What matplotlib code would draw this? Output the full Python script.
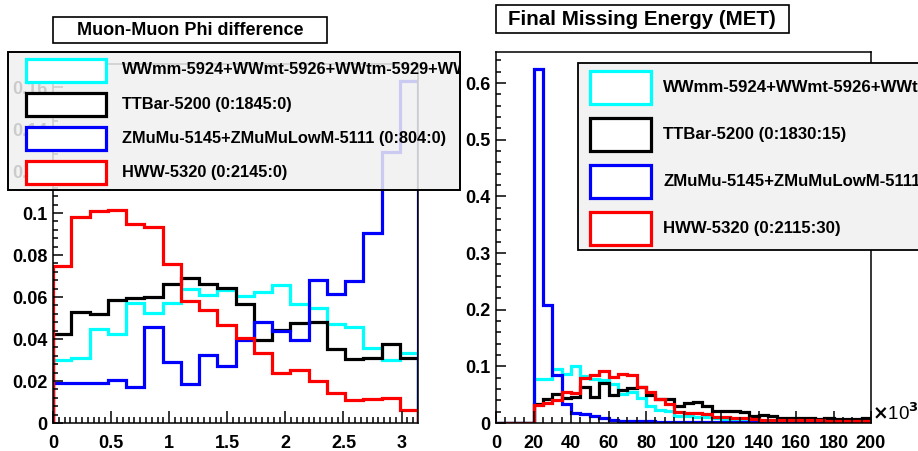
import numpy as np
import matplotlib
matplotlib.use('Agg')
import matplotlib.pyplot as plt
from matplotlib.patches import Rectangle
from matplotlib.ticker import MultipleLocator, FuncFormatter

plt.rcParams['font.family'] = ['Liberation Sans', 'DejaVu Sans']
plt.rcParams['font.weight'] = 'bold'

# --- data: Muon-Muon Phi difference (20 bins, 0..pi) ---
ww_dphi = [0.0302, 0.0308, 0.0446, 0.0425, 0.0573, 0.0525, 0.0571, 0.0640, 0.0608, 0.0632,
           0.0605, 0.0624, 0.0656, 0.0568, 0.0550, 0.0473, 0.0457, 0.0359, 0.0302, 0.0333]
tt_dphi = [0.0425, 0.0529, 0.0517, 0.0584, 0.0597, 0.0600, 0.0663, 0.0692, 0.0663, 0.0644,
           0.0565, 0.0397, 0.0444, 0.0476, 0.0483, 0.0354, 0.0305, 0.0310, 0.0375, 0.0311]
z_dphi = [0.0190, 0.0190, 0.0190, 0.0206, 0.0171, 0.0457, 0.0290, 0.0184, 0.0322, 0.0271,
          0.0394, 0.0481, 0.0437, 0.0394, 0.0683, 0.0616, 0.0676, 0.0905, 0.1290, 0.1630]
hww_dphi = [0.0746, 0.0980, 0.1008, 0.1013, 0.0950, 0.0933, 0.0759, 0.0580, 0.0537, 0.0468,
            0.0406, 0.0333, 0.0240, 0.0251, 0.0198, 0.0144, 0.0111, 0.0114, 0.0119, 0.0060]

# --- data: Final Missing Energy (40 bins of 5, 0..200 x10^3) ---
ww_met = [0, 0, 0, 0, 0.077, 0.078, 0.096, 0.086, 0.1005, 0.083,
          0.077, 0.076, 0.068, 0.052, 0.055, 0.0435, 0.030, 0.023, 0.022, 0.012,
          0.012, 0.010, 0.010, 0.008, 0.006, 0.006, 0.004, 0.0035, 0.003, 0.003,
          0.003, 0.0025, 0.0025, 0.0025, 0.002, 0.002, 0.002, 0.002, 0.002, 0.002]
tt_met = [0, 0, 0, 0, 0.0335, 0.042, 0.051, 0.0435, 0.046, 0.063,
          0.046, 0.070, 0.049, 0.059, 0.062, 0.063, 0.050, 0.043, 0.043, 0.030,
          0.035, 0.037, 0.030, 0.022, 0.022, 0.021, 0.020, 0.013, 0.014, 0.012,
          0.0094, 0.0094, 0.008, 0.008, 0.0065, 0.008, 0.0065, 0.0065, 0.0065, 0.008]
z_met = [0, 0, 0, 0, 0.625, 0.2075, 0.085, 0.0335, 0.017, 0.016,
         0.012, 0.008, 0.005, 0.004, 0.004, 0.003, 0.003, 0.0015, 0.0015, 0.0015,
         0.0015, 0.0015, 0.0015, 0.0015, 0.0015, 0.0015, 0.001, 0.001, 0.001, 0.001,
         0.001, 0.001, 0.001, 0.001, 0.001, 0.001, 0.001, 0.001, 0.001, 0.001]
hww_met = [0, 0, 0, 0, 0.032, 0.036, 0.040, 0.055, 0.053, 0.080,
           0.085, 0.092, 0.081, 0.087, 0.085, 0.064, 0.054, 0.042, 0.034, 0.020,
           0.017, 0.017, 0.016, 0.011, 0.010, 0.008, 0.008, 0.0065, 0.005, 0.005,
           0.005, 0.005, 0.0045, 0.0045, 0.0045, 0.004, 0.004, 0.004, 0.004, 0.004]

colors = ['#00ffff', '#000000', '#0000ff', '#ff0000']
labels_dphi = ['WWmm-5924+WWmt-5926+WWtm-5929+WW', 'TTBar-5200 (0:1845:0)',
               'ZMuMu-5145+ZMuMuLowM-5111 (0:804:0)', 'HWW-5320 (0:2145:0)']
labels_met = ['WWmm-5924+WWmt-5926+WWtm-5929+WW', 'TTBar-5200 (0:1830:15)',
              'ZMuMu-5145+ZMuMuLowM-5111', 'HWW-5320 (0:2115:30)']

W, H = 918, 451
fig = plt.figure(figsize=(W / 100, H / 100), dpi=100)
fig.patch.set_facecolor('white')


def fax(x0, y0, x1, y1):
    # pixel box -> figure fraction rect
    return [x0 / W, (H - y1) / H, (x1 - x0) / W, (y1 - y0) / H]


ax1 = fig.add_axes(fax(53, 64, 418, 423))
ax2 = fig.add_axes(fax(496, 52, 871, 423))

dphi_edges = np.linspace(0, np.pi, len(hww_dphi) + 1)
met_edges = np.linspace(0, 200, len(hww_met) + 1)

for vals, c in zip([ww_dphi, tt_dphi, z_dphi, hww_dphi], colors):
    ax1.stairs(vals, dphi_edges, color=c, lw=2.3, baseline=0)
for vals, c in zip([ww_met, tt_met, z_met, hww_met], colors):
    ax2.stairs(vals, met_edges, color=c, lw=2.3, baseline=0)

ax1.set_xlim(0, np.pi)
ax1.set_ylim(0, 0.171)
ax2.set_xlim(0, 200)
ax2.set_ylim(0, 0.655)

fmt = FuncFormatter(lambda v, p: '%g' % round(v, 4))
for ax in (ax1, ax2):
    for s in ax.spines.values():
        s.set_linewidth(1.1)
    ax.tick_params(which='both', direction='in', top=False, right=False, width=1.1,
                   labelsize=13)
    ax.tick_params(axis='x', which='major', length=8.5, pad=9)
    ax.tick_params(axis='x', which='minor', length=4.3)
    ax.tick_params(axis='y', which='major', length=7, pad=4)
    ax.tick_params(axis='y', which='minor', length=3.6)
    ax.xaxis.set_major_formatter(fmt)
    ax.yaxis.set_major_formatter(fmt)
    for lab in ax.get_xticklabels() + ax.get_yticklabels():
        lab.set_fontweight('bold')

ax1.xaxis.set_major_locator(MultipleLocator(0.5))
ax1.xaxis.set_minor_locator(MultipleLocator(0.05))
ax1.yaxis.set_major_locator(MultipleLocator(0.02))
ax1.yaxis.set_minor_locator(MultipleLocator(0.004))
ax2.xaxis.set_major_locator(MultipleLocator(20))
ax2.xaxis.set_minor_locator(MultipleLocator(5))
ax2.yaxis.set_major_locator(MultipleLocator(0.1))
ax2.yaxis.set_minor_locator(MultipleLocator(0.02))

ax2.text(1.003, 0.027, r'$\times$10$^{3}$', transform=ax2.transAxes, fontsize=13.5,
         fontweight='normal', ha='left', va='center')

# pads drawn on top in pixel coordinates (titles and legends)
padL = fig.add_axes([0, 0, 461 / W, 1], zorder=10)
padL.set_xlim(0, 461)
padL.set_ylim(H, 0)
padR = fig.add_axes([461 / W, 0, (W - 461) / W, 1], zorder=10)
padR.set_xlim(461, W)
padR.set_ylim(H, 0)
for p in (padL, padR):
    p.axis('off')
    p.patch.set_visible(False)

# titles
padL.add_patch(Rectangle((53, 17), 274, 26, facecolor='white', edgecolor='black', lw=1.2))
padL.text(190, 30.5, 'Muon-Muon Phi difference', ha='center', va='center',
          fontsize=13, fontweight='bold')
padR.add_patch(Rectangle((496, 5), 293, 28, facecolor='white', edgecolor='black', lw=1.2))
padR.text(642, 19.5, 'Final Missing Energy (MET)', ha='center', va='center',
          fontsize=14.8, fontweight='bold')

# legends
padL.add_patch(Rectangle((8, 52), 452, 138, facecolor='#f0f0f0', edgecolor='black',
                         lw=1.3, alpha=0.85, clip_on=True))
padL.add_patch(Rectangle((8, 52), 452, 138, facecolor='none', edgecolor='black',
                         lw=1.3, clip_on=True))
for i, (lab, c) in enumerate(zip(labels_dphi, colors)):
    yc = 70 + 34 * i
    padL.add_patch(Rectangle((26, yc - 11.5), 80, 23, facecolor='white', edgecolor=c,
                             lw=2.3, clip_on=True))
    padL.text(122, yc, lab, ha='left', va='center', fontsize=11.8, fontweight='bold',
              clip_on=True)

padR.add_patch(Rectangle((578, 63), 360, 187, facecolor='#f2f2f2', edgecolor='black',
                         lw=1.3, clip_on=True))
for i, (lab, c) in enumerate(zip(labels_met, colors)):
    yc = 87 + 47 * i
    padR.add_patch(Rectangle((590, yc - 16.5), 61, 33, facecolor='white', edgecolor=c,
                             lw=2.3, clip_on=True))
    padR.text(663, yc, lab, ha='left', va='center', fontsize=12.1, fontweight='bold',
              clip_on=True)

fig.savefig('out.png', dpi=100)
